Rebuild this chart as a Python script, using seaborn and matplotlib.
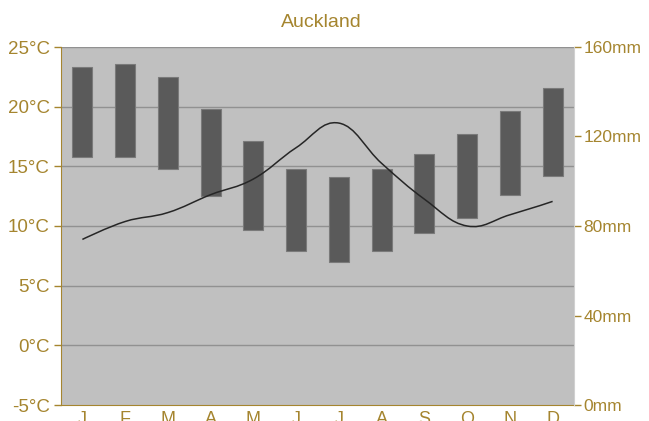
import numpy as np
import pandas as pd
import seaborn as sns
import matplotlib.pyplot as plt
from matplotlib.path import Path
from matplotlib.patches import PathPatch

# Monthly values
months = ["J", "F", "M", "A", "M", "J", "J", "A", "S", "O", "N", "D"]
temp_min = [15.8, 15.8, 14.8, 12.5, 9.7, 7.9, 7.0, 7.9, 9.4, 10.7, 12.6, 14.2]
temp_max = [23.3, 23.6, 22.5, 19.8, 17.1, 14.8, 14.1, 14.8, 16.0, 17.7, 19.6, 21.6]
rain_mm = [74, 82, 86, 94, 101, 115, 126, 108, 92, 80, 85, 91]

gold = "#A5852F"
bg = "#C0C0C0"

df = pd.DataFrame({"month": range(12), "tmin": temp_min, "tmax": temp_max})
df["span"] = df["tmax"] - df["tmin"]

sns.set_style("white")
plt.rcParams["font.family"] = ["Liberation Sans", "DejaVu Sans"]

fig = plt.figure(figsize=(6.49, 4.21), dpi=100)
ax = fig.add_axes([61 / 649, 16 / 421, 513 / 649, 358 / 421])
ax.set_facecolor(bg)

sns.barplot(data=df, x="month", y="span", bottom=df["tmin"], color="#5A5A5A",
            width=0.47, edgecolor="#7a7a7a", linewidth=0.8, saturation=1, ax=ax, zorder=3)

ax.set_ylim(-5, 25)
ax.set_xlim(-0.5, 11.5)
ax.set_yticks(range(-5, 26, 5))
ax.set_yticklabels([f"{t}°C" for t in range(-5, 26, 5)])
ax.set_xticks(range(12))
ax.set_xticklabels(months)
ax.set_xlabel("")
ax.set_ylabel("")
for t in range(0, 26, 5):
    ax.axhline(t, color="#919191", lw=1, zorder=1)

for s in ["top", "right"]:
    ax.spines[s].set_visible(False)
ax.spines["left"].set_color(gold)
ax.spines["bottom"].set_color(gold)
ax.tick_params(axis="both", colors=gold, length=5, width=1, direction="out")
ax.tick_params(axis="x", pad=0, length=4, labelsize=13)
ax.tick_params(axis="y", pad=3, labelsize=13.5)
fig.text(321.7 / 649, 1 - 27 / 421, "Auckland", color=gold, fontsize=14,
         ha="center", va="baseline")

# precipitation on the right axis, drawn as a smooth spline through the monthly values
ax2 = ax.twinx()
ax2.set_ylim(0, 160)
ax2.set_yticks(range(0, 161, 40))
ax2.set_yticklabels([f"{v}mm" for v in range(0, 161, 40)])
ax2.tick_params(axis="y", colors=gold, labelsize=12.5, length=5, width=1, pad=2)
for s in ["top", "left", "bottom"]:
    ax2.spines[s].set_visible(False)
ax2.spines["right"].set_color("#d0d0d0")

xs = np.arange(12, dtype=float)
ys = np.array(rain_mm, dtype=float)
slope = np.zeros(12)
slope[1:-1] = (ys[2:] - ys[:-2]) / 2
verts = [(xs[0], ys[0])]
codes = [Path.MOVETO]
for i in range(11):
    h0 = 0.4 if i > 0 else 0
    h1 = 0.4 if i + 1 < 11 else 0
    verts += [(xs[i] + h0, ys[i] + h0 * slope[i]),
              (xs[i + 1] - h1, ys[i + 1] - h1 * slope[i + 1]),
              (xs[i + 1], ys[i + 1])]
    codes += [Path.CURVE4] * 3
ax2.add_patch(PathPatch(Path(verts, codes), fill=False, edgecolor="#262626", lw=1.1, zorder=5))

fig.savefig("out.png", dpi=100)
